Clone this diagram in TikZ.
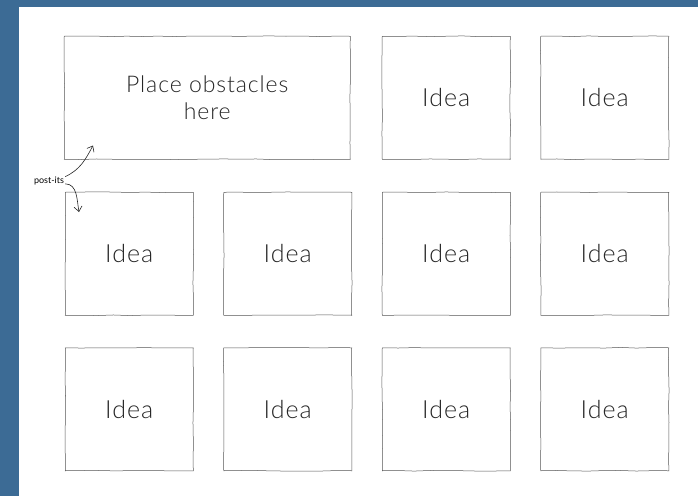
\documentclass[tikz,border=0pt]{standalone}
\usepackage{fontspec}
\newfontfamily\thinfont{Lato Light}[LetterSpace=4]
\newfontfamily\notefont{Lato}
\usepackage{tikz}
\usetikzlibrary{positioning, arrows.meta, decorations.pathmorphing}
\definecolor{dblue}{HTML}{3C6B95}
\definecolor{dgray}{HTML}{555555}

\begin{document}
\begin{tikzpicture}[
    x=1pt, y=-1pt,
    card/.style={rectangle, draw=dgray, line width=0.5pt, minimum width=128pt, minimum height=123pt, align=center, inner sep=0pt, font=\thinfont\fontsize{25}{29}\selectfont, text=black!85, decorate, decoration={random steps, segment length=16pt, amplitude=0.35pt}},
    arr/.style={-{Straight Barb[length=5pt, width=8pt]}, line width=0.6pt, black!85},
    note/.style={font=\notefont\fontsize{9}{10}\selectfont, text=black, inner sep=1pt},
]

% Frame
\useasboundingbox (0,0) rectangle (698,496);
\fill[dblue] (0,0) rectangle (698,496);
\fill[white] (19,7) rectangle (698,496);

% Top row
\node[card, minimum width=286pt, anchor=north west, font=\thinfont\fontsize{23}{27}\selectfont] (obst) at (64,36) {Place obstacles\\here};
\node[card, anchor=north west] (ideaA) at (382,36) {Idea};
\node[card, right=30pt of ideaA] (ideaB) {Idea};

% Middle row
\node[card, anchor=north west] (ideaC) at (65,192) {Idea};
\node[card, right=30pt of ideaC] (ideaD) {Idea};
\node[card, right=30pt of ideaD] (ideaE) {Idea};
\node[card, right=30pt of ideaE] (ideaF) {Idea};

% Bottom row
\node[card, below=32pt of ideaC] (ideaG) {Idea};
\node[card, below=32pt of ideaD] (ideaH) {Idea};
\node[card, below=32pt of ideaE] (ideaI) {Idea};
\node[card, below=32pt of ideaF] (ideaJ) {Idea};

% Post-its label
\node[note] (postits) at (49,181) {post-its};
\coordinate (tipup) at ([shift={(29pt,14pt)}]obst.south west);
\coordinate (tipdown) at ([shift={(14pt,-20pt)}]ideaC.north west);

\draw[arr] (postits.15) to[out=25, in=-118] (tipup);
\draw[arr] (postits.-10) to[out=0, in=100] (tipdown);

\end{tikzpicture}
\end{document}
